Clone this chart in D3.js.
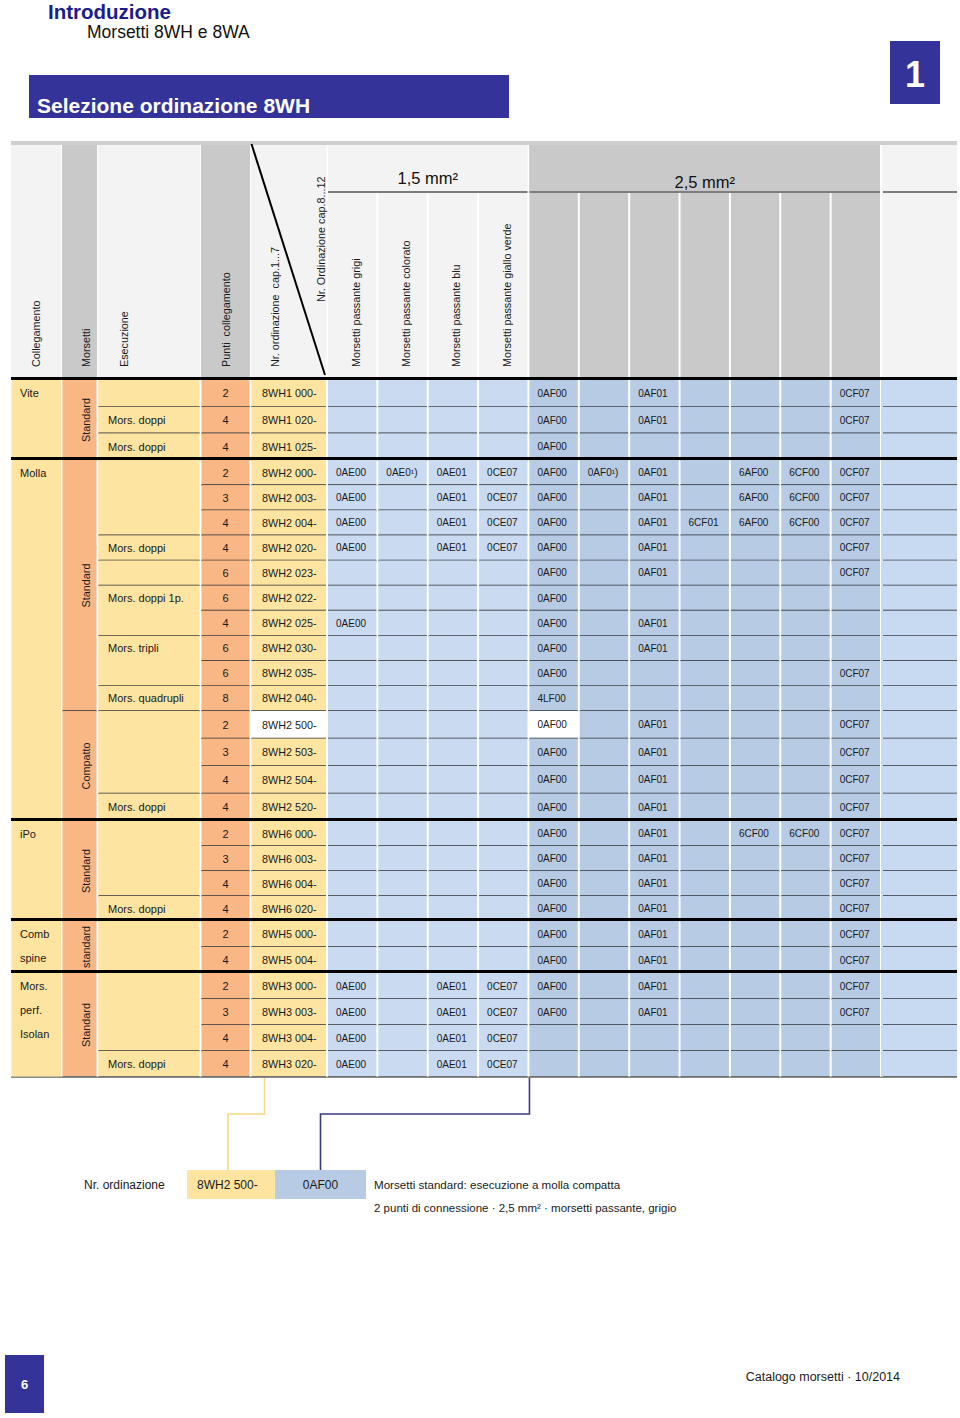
<!DOCTYPE html>
<html><head><meta charset="utf-8">
<script src="https://cdn.jsdelivr.net/npm/d3@7"></script>
<style>
body{margin:0;background:#fff;}
svg{display:block;font-family:"Liberation Sans",Arial,Helvetica,sans-serif;}
text{white-space:pre;}
</style>
</head><body>
<svg id="c" width="960" height="1418"></svg>
<script>
// ---------------- DATA ----------------
const pageTitle = "Introduzione";
const pageSubtitle = "Morsetti 8WH e 8WA";
const sectionTitle = "Selezione ordinazione 8WH";
const chapterNumber = "1";
const pageNumber = "6";
const footerText = "Catalogo morsetti · 10/2014";

const leftHeaders = ["Collegamento", "Morsetti", "Esecuzione", "Punti  collegamento", "Nr. ordinazione  cap.1...7"];
const secondOrderHeader = "Nr. Ordinazione cap.8...12";
const sectionLabels = ["1,5 mm²", "2,5 mm²"];
const headers15 = ["Morsetti passante grigi", "Morsetti passante colorato", "Morsetti passante blu", "Morsetti passante giallo verde"];

const collegamentoNames = [["Vite"], ["Molla"], ["iPo"], ["Comb", "spine"], ["Mors.", "perf.", "Isolan"]];
const collegamentoStarts = [0, 3, 17, 21, 23];

const morsettiNames = ["Standard", "Standard", "Compatto", "Standard", "standard", "Standard"];
const morsettiStarts = [0, 3, 13, 17, 21, 23];

const esecuzioneNames = ["", "Mors. doppi", "Mors. doppi", "", "Mors. doppi", "", "Mors. doppi 1p.", "Mors. tripli", "Mors. quadrupli", "", "Mors. doppi", "", "Mors. doppi", "", "", "Mors. doppi"];
const esecuzioneStarts = [0, 1, 2, 3, 6, 7, 8, 10, 12, 13, 16, 17, 20, 21, 23, 26];

const rowPoints = [2, 4, 4, 2, 3, 4, 4, 6, 6, 4, 6, 6, 8, 2, 3, 4, 4, 2, 3, 4, 4, 2, 4, 2, 3, 4, 4];
const rowCodes = ["8WH1 000-", "8WH1 020-", "8WH1 025-",
  "8WH2 000-", "8WH2 003-", "8WH2 004-", "8WH2 020-", "8WH2 023-", "8WH2 022-", "8WH2 025-", "8WH2 030-", "8WH2 035-", "8WH2 040-",
  "8WH2 500-", "8WH2 503-", "8WH2 504-", "8WH2 520-",
  "8WH6 000-", "8WH6 003-", "8WH6 004-", "8WH6 020-",
  "8WH5 000-", "8WH5 004-",
  "8WH3 000-", "8WH3 003-", "8WH3 004-", "8WH3 020-"];

const e = ["", "", "", ""];
const codes15 = [
  e, e, e,
  ["0AE00", "0AE0¹)", "0AE01", "0CE07"],
  ["0AE00", "", "0AE01", "0CE07"],
  ["0AE00", "", "0AE01", "0CE07"],
  ["0AE00", "", "0AE01", "0CE07"],
  e, e,
  ["0AE00", "", "", ""],
  e, e, e, e, e, e, e, e, e, e, e, e, e,
  ["0AE00", "", "0AE01", "0CE07"],
  ["0AE00", "", "0AE01", "0CE07"],
  ["0AE00", "", "0AE01", "0CE07"],
  ["0AE00", "", "0AE01", "0CE07"]
];

const std25 = ["0AF00", "", "0AF01", "", "", "", "0CF07"];
const none25 = ["", "", "", "", "", "", ""];
const codes25 = [
  std25, std25,
  ["0AF00", "", "", "", "", "", ""],
  ["0AF00", "0AF0¹)", "0AF01", "", "6AF00", "6CF00", "0CF07"],
  ["0AF00", "", "0AF01", "", "6AF00", "6CF00", "0CF07"],
  ["0AF00", "", "0AF01", "6CF01", "6AF00", "6CF00", "0CF07"],
  std25, std25,
  ["0AF00", "", "", "", "", "", ""],
  ["0AF00", "", "0AF01", "", "", "", ""],
  ["0AF00", "", "0AF01", "", "", "", ""],
  ["0AF00", "", "", "", "", "", "0CF07"],
  ["4LF00", "", "", "", "", "", ""],
  std25, std25, std25, std25,
  ["0AF00", "", "0AF01", "", "6CF00", "6CF00", "0CF07"],
  std25, std25, std25, std25, std25, std25, std25,
  none25, none25
];

const exampleRow = 13;       // 8WH2 500-
const exampleCol = 0;        // 0AF00 (2,5 mm²)
const legendLabel = "Nr. ordinazione";
const legendCodes = ["8WH2 500-", "0AF00"];
const legendLines = ["Morsetti standard: esecuzione a molla compatta", "2 punti di connessione · 2,5 mm² · morsetti passante, grigio"];

// ---------------- STYLE / LAYOUT ----------------
const C = {
  yellow: "#FDE4A1", orange: "#F9B786", blue15: "#CADBF1", blue25: "#B7CBE4", blueLast: "#C8DAF1",
  hGray: "#C9C9C9", hLight: "#F3F3F3", navy: "#333399", sep: "#2f3338", text: "#1a1a1a"
};
const nRows = rowCodes.length;
const svg = d3.select("#c");

// column edges of the left block, then a band scale for the 11 code columns
const leftEdges = [11, 61.5, 97.5, 200.5, 250.5, 327];
const xCode = d3.scaleBand().domain(d3.range(11)).range([327, 881]);
const lastCol = [881, 957];
const tableL = 11, tableR = 957;

// rows: piecewise-linear scale with breakpoints at group starts
const breaks = Array.from(new Set([...collegamentoStarts, ...morsettiStarts, nRows])).sort((a, b) => a - b);
const y = d3.scaleLinear().domain(breaks).range([380, 460, 711, 821, 921, 973, 1077]);
const rowMid = i => (y(i) + y(i + 1)) / 2;

const groups = (starts, names) => starts.map((s, k) => ({ s, e: k + 1 < starts.length ? starts[k + 1] : nRows, name: names[k] }));

// ---------------- PAGE HEADER ----------------
svg.append("text").attr("x", 48).attr("y", 18.5).attr("font-size", 20.5).attr("font-weight", "bold")
  .attr("fill", "#1c1c8a").text(pageTitle);
svg.append("text").attr("x", 87).attr("y", 38).attr("font-size", 17.5).attr("fill", "#111").text(pageSubtitle);
svg.append("rect").attr("x", 29).attr("y", 75).attr("width", 480).attr("height", 43).attr("fill", C.navy);
svg.append("text").attr("x", 37).attr("y", 113).attr("font-size", 21).attr("font-weight", "bold")
  .attr("fill", "#fff").text(sectionTitle);
svg.append("rect").attr("x", 890).attr("y", 41).attr("width", 50).attr("height", 63).attr("fill", C.navy);
svg.append("text").attr("x", 915).attr("y", 87).attr("text-anchor", "middle").attr("font-size", 36)
  .attr("font-weight", "bold").attr("fill", "#fff").text(chapterNumber);

// ---------------- TABLE HEADER ----------------
const hTop = 145, hBot = 377, hLine = 192;
svg.append("rect").attr("x", tableL).attr("y", 141).attr("width", tableR - tableL).attr("height", 4).attr("fill", "#CFCFCF");
const leftFills = [C.hLight, C.hGray, C.hLight, C.hGray, C.hLight];
leftFills.forEach((f, i) => {
  svg.append("rect").attr("x", leftEdges[i] + (i ? 0.5 : 0)).attr("y", hTop)
    .attr("width", leftEdges[i + 1] - leftEdges[i] - (i ? 1 : 0.5)).attr("height", hBot - hTop).attr("fill", f);
});
d3.range(11).forEach(j => {
  svg.append("rect").attr("x", xCode(j) + 1).attr("y", hTop).attr("width", xCode.bandwidth() - 2)
    .attr("height", hBot - hTop).attr("fill", j < 4 ? C.hLight : C.hGray);
});
// merged tops of the two sections
svg.append("rect").attr("x", xCode(0) + 1).attr("y", hTop).attr("width", xCode(4) - xCode(0) - 2).attr("height", hLine - hTop).attr("fill", C.hLight);
svg.append("rect").attr("x", xCode(4) + 1).attr("y", hTop).attr("width", xCode(10) + xCode.bandwidth() - xCode(4) - 2).attr("height", hLine - hTop).attr("fill", C.hGray);
svg.append("rect").attr("x", lastCol[0] + 1).attr("y", hTop).attr("width", lastCol[1] - lastCol[0] - 1).attr("height", hBot - hTop).attr("fill", C.hLight);
// section lines
[[xCode(0) + 1, xCode(4) - 1], [xCode(4) + 1, xCode(10) + xCode.bandwidth() - 1], [lastCol[0] + 2, lastCol[1]]].forEach(([a, b]) => {
  svg.append("line").attr("x1", a).attr("x2", b).attr("y1", hLine).attr("y2", hLine).attr("stroke", "#7d7d7d").attr("stroke-width", 2);
});
svg.append("text").attr("x", (xCode(0) + xCode(4)) / 2).attr("y", 184).attr("text-anchor", "middle")
  .attr("font-size", 16.5).attr("fill", "#111").text(sectionLabels[0]);
svg.append("text").attr("x", (xCode(4) + xCode(10) + xCode.bandwidth()) / 2).attr("y", 188).attr("text-anchor", "middle")
  .attr("font-size", 16.5).attr("fill", "#111").text(sectionLabels[1]);

// diagonal
svg.append("line").attr("x1", leftEdges[4] + 1).attr("y1", 144).attr("x2", leftEdges[5] - 2).attr("y2", 375)
  .attr("stroke", "#000").attr("stroke-width", 2);

// rotated header texts
const vText = (x, yy, str, anchor) => svg.append("text")
  .attr("transform", `translate(${x},${yy}) rotate(-90)`).attr("text-anchor", anchor || "start")
  .attr("dominant-baseline", "central").attr("font-size", 10.8).attr("fill", C.text).text(str);
const leftHeaderX = [36, 86, 124, 225.5, 275];
leftHeaders.forEach((h, i) => vText(leftHeaderX[i], 367, h));
vText(321, 302, secondOrderHeader);
headers15.forEach((h, j) => vText(xCode(j) + 28.5, 367, h));

// ---------------- TABLE BODY ----------------
const body = svg.append("g");
const cellRect = (x0, x1, i0, i1, fill, inset) => body.append("rect")
  .attr("x", x0 + (inset === undefined ? 1 : inset)).attr("y", y(i0))
  .attr("width", x1 - x0 - 2 * (inset === undefined ? 1 : inset)).attr("height", y(i1) - y(i0)).attr("fill", fill);
const sepLine = (x0, x1, i) => body.append("line").attr("x1", x0 + 1).attr("x2", x1 - 1)
  .attr("y1", y(i)).attr("y2", y(i)).attr("stroke", C.sep).attr("stroke-width", 1.5);
const label = (x, yy, str, size, anchor) => body.append("text").attr("x", x).attr("y", yy)
  .attr("dominant-baseline", "central").attr("text-anchor", anchor || "start")
  .attr("font-size", size).attr("fill", C.text).text(str);

// Collegamento
groups(collegamentoStarts, collegamentoNames).forEach(g => {
  cellRect(leftEdges[0], leftEdges[1], g.s, g.e, C.yellow, 0.5);
  g.name.forEach((t, k) => label(20, rowMid(g.s) + k * 24, t, 11));
});
// Morsetti
groups(morsettiStarts, morsettiNames).forEach(g => {
  cellRect(leftEdges[1], leftEdges[2], g.s, g.e, C.orange);
  body.append("text").attr("transform", `translate(86,${(y(g.s) + y(g.e)) / 2}) rotate(-90)`)
    .attr("text-anchor", "middle").attr("dominant-baseline", "central").attr("font-size", 10.8)
    .attr("fill", C.text).text(g.name);
  sepLine(leftEdges[1], leftEdges[2], g.e);
});
// Esecuzione
groups(esecuzioneStarts, esecuzioneNames).forEach(g => {
  cellRect(leftEdges[2], leftEdges[3], g.s, g.e, C.yellow);
  if (g.name) label(108, rowMid(g.s), g.name, 11);
  sepLine(leftEdges[2], leftEdges[3], g.e);
});
// Per-row columns
d3.range(nRows).forEach(i => {
  cellRect(leftEdges[3], leftEdges[4], i, i + 1, C.orange);
  label((leftEdges[3] + leftEdges[4]) / 2, rowMid(i), String(rowPoints[i]), 11, "middle");
  cellRect(leftEdges[4], leftEdges[5], i, i + 1, i === exampleRow ? "#ffffff" : C.yellow);
  label(leftEdges[4] + 11.5, rowMid(i), rowCodes[i], 10.8);
  d3.range(11).forEach(j => {
    const isEx = j === 4 + exampleCol && i === exampleRow;
    const fill = isEx ? "#ffffff" : (j < 4 ? C.blue15 : C.blue25);
    cellRect(xCode(j), xCode(j) + xCode.bandwidth(), i, i + 1, fill);
    const v = j < 4 ? codes15[i][j] : codes25[i][j - 4];
    if (v) label(xCode(j) + 9, rowMid(i), v, 10);
  });
  cellRect(lastCol[0], lastCol[1], i, i + 1, C.blueLast, 0);
  [[leftEdges[3], leftEdges[4]], [leftEdges[4], leftEdges[5]], [lastCol[0] + 1, lastCol[1] + 1]]
    .concat(d3.range(11).map(j => [xCode(j), xCode(j) + xCode.bandwidth()]))
    .forEach(([a, b]) => sepLine(a, b, i + 1));
});
// thick group separators
[0, ...collegamentoStarts.slice(1)].forEach(s => {
  body.append("rect").attr("x", tableL).attr("y", y(s) - 3).attr("width", tableR - tableL).attr("height", 3).attr("fill", "#000");
});
// bottom line
body.append("rect").attr("x", tableL).attr("y", y(nRows) - 0.5).attr("width", tableR - tableL).attr("height", 1.5).attr("fill", "#8a8a8a");

// ---------------- LEGEND / EXAMPLE ----------------
const legY = 1170, legH = 29, elbowY = 1114;
const box1 = [187, 275], box2 = [275, 366];
const from1 = leftEdges[4] + 14, from2 = xCode(4) + 1;
const path = (pts, col) => svg.append("path").attr("d", d3.line()(pts)).attr("fill", "none").attr("stroke", col).attr("stroke-width", 1.6);
path([[from1, y(nRows) + 1], [from1, elbowY], [(box1[0] + box1[1]) / 2 - 3, elbowY], [(box1[0] + box1[1]) / 2 - 3, legY]], "#F6D983");
path([[from2, y(nRows) + 1], [from2, elbowY], [(box2[0] + box2[1]) / 2, elbowY], [(box2[0] + box2[1]) / 2, legY]], "#3b3b7e");
svg.append("rect").attr("x", box1[0]).attr("y", legY).attr("width", box1[1] - box1[0]).attr("height", legH).attr("fill", C.yellow);
svg.append("rect").attr("x", box2[0]).attr("y", legY).attr("width", box2[1] - box2[0]).attr("height", legH).attr("fill", C.blue25);
const lt = (x, yy, s, anchor, size) => svg.append("text").attr("x", x).attr("y", yy).attr("dominant-baseline", "central")
  .attr("text-anchor", anchor || "start").attr("font-size", size || 12).attr("fill", C.text).text(s);
lt(84, legY + legH / 2, legendLabel);
lt(197, legY + legH / 2, legendCodes[0]);
lt((box2[0] + box2[1]) / 2, legY + legH / 2, legendCodes[1], "middle");
lt(374, legY + legH / 2, legendLines[0], "start", 11.6);
lt(374, legY + legH / 2 + 23, legendLines[1], "start", 11.5);

// ---------------- FOOTER ----------------
svg.append("rect").attr("x", 5).attr("y", 1355).attr("width", 39).attr("height", 58).attr("fill", C.navy);
svg.append("text").attr("x", 24.5).attr("y", 1384).attr("dominant-baseline", "central").attr("text-anchor", "middle")
  .attr("font-size", 13).attr("font-weight", "bold").attr("fill", "#fff").text(pageNumber);
svg.append("text").attr("x", 900).attr("y", 1377).attr("dominant-baseline", "central").attr("text-anchor", "end")
  .attr("font-size", 12.5).attr("fill", C.text).text(footerText);
</script>
</body></html>
